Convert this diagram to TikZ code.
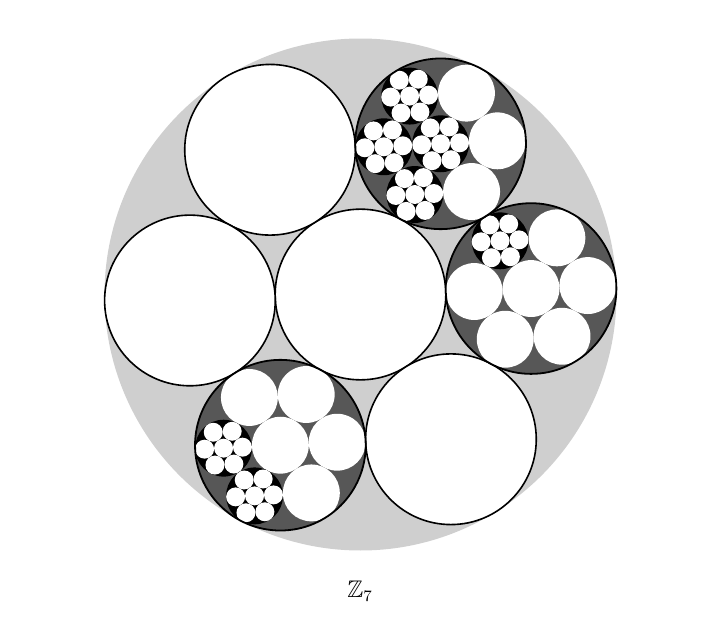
\documentclass[tikz,border=0pt]{standalone}
\usepackage{amssymb}
\tikzset{
  outerdisc/.style={fill=black!19},
  whitedisc/.style={fill=white,draw=black,line width=0.8pt},
  darkfill/.style={fill=black!66},
  darkborder/.style={draw=black,line width=0.9pt},
  blackdisc/.style={fill=black},
  smalldisc/.style={fill=white}
}
\def\rA{85.333}\def\rB{28.444}\def\rC{9.481}
\def\dA{170.667}\def\dB{56.889}\def\dC{18.963}
\newcommand\subwhite[1]{\fill[smalldisc] #1 circle (\rB);}
\newcommand\subcluster[1]{%
  \begin{scope}[shift={#1}]
    \fill[blackdisc] (0,0) circle (\rB);
    \fill[smalldisc] (0,0) circle (\rC);
    \foreach \m in {0,...,5} \fill[smalldisc] (3+60*\m:\dC) circle (\rC);
  \end{scope}}
\begin{document}
\begin{tikzpicture}[x=0.5pt,y=0.5pt]
\useasboundingbox (0,0) rectangle (720,618);
\coordinate (C) at (360.5,323.5);
\fill[outerdisc] (C) circle (256);
\begin{scope}[shift={(C)}]
  % white first-level discs
  \draw[whitedisc] (0,0) circle (\rA);
  \foreach \k in {2,3,5} \draw[whitedisc] (2+60*\k:\dA) circle (\rA);
  % dark disc at 2 degrees (right)
  \begin{scope}[shift={(2:\dA)}]
    \fill[darkfill] (0,0) circle (\rA);
    \subwhite{(0,0)}
    \subwhite{(3:\dB)}
    \subwhite{(63:\dB)}
    \subcluster{(123:\dB)}
    \subwhite{(183:\dB)}
    \subwhite{(243:\dB)}
    \subwhite{(303:\dB)}
    \draw[darkborder] (0,0) circle (\rA);
  \end{scope}
  % dark disc at 62 degrees (top right)
  \begin{scope}[shift={(62:\dA)}]
    \fill[darkfill] (0,0) circle (\rA);
    \subcluster{(0,0)}
    \subwhite{(3:\dB)}
    \subwhite{(63:\dB)}
    \subcluster{(123:\dB)}
    \subcluster{(183:\dB)}
    \subcluster{(243:\dB)}
    \subwhite{(303:\dB)}
    \draw[darkborder] (0,0) circle (\rA);
  \end{scope}
  % dark disc at 242 degrees (bottom left)
  \begin{scope}[shift={(242:\dA)}]
    \fill[darkfill] (0,0) circle (\rA);
    \subwhite{(0,0)}
    \subwhite{(3:\dB)}
    \subwhite{(63:\dB)}
    \subwhite{(123:\dB)}
    \subcluster{(183:\dB)}
    \subcluster{(243:\dB)}
    \subwhite{(303:\dB)}
    \draw[darkborder] (0,0) circle (\rA);
  \end{scope}
\end{scope}
\node[font=\large] (lbl) at (360,27) {$\mathbb{Z}_7$};
\end{tikzpicture}
\end{document}
